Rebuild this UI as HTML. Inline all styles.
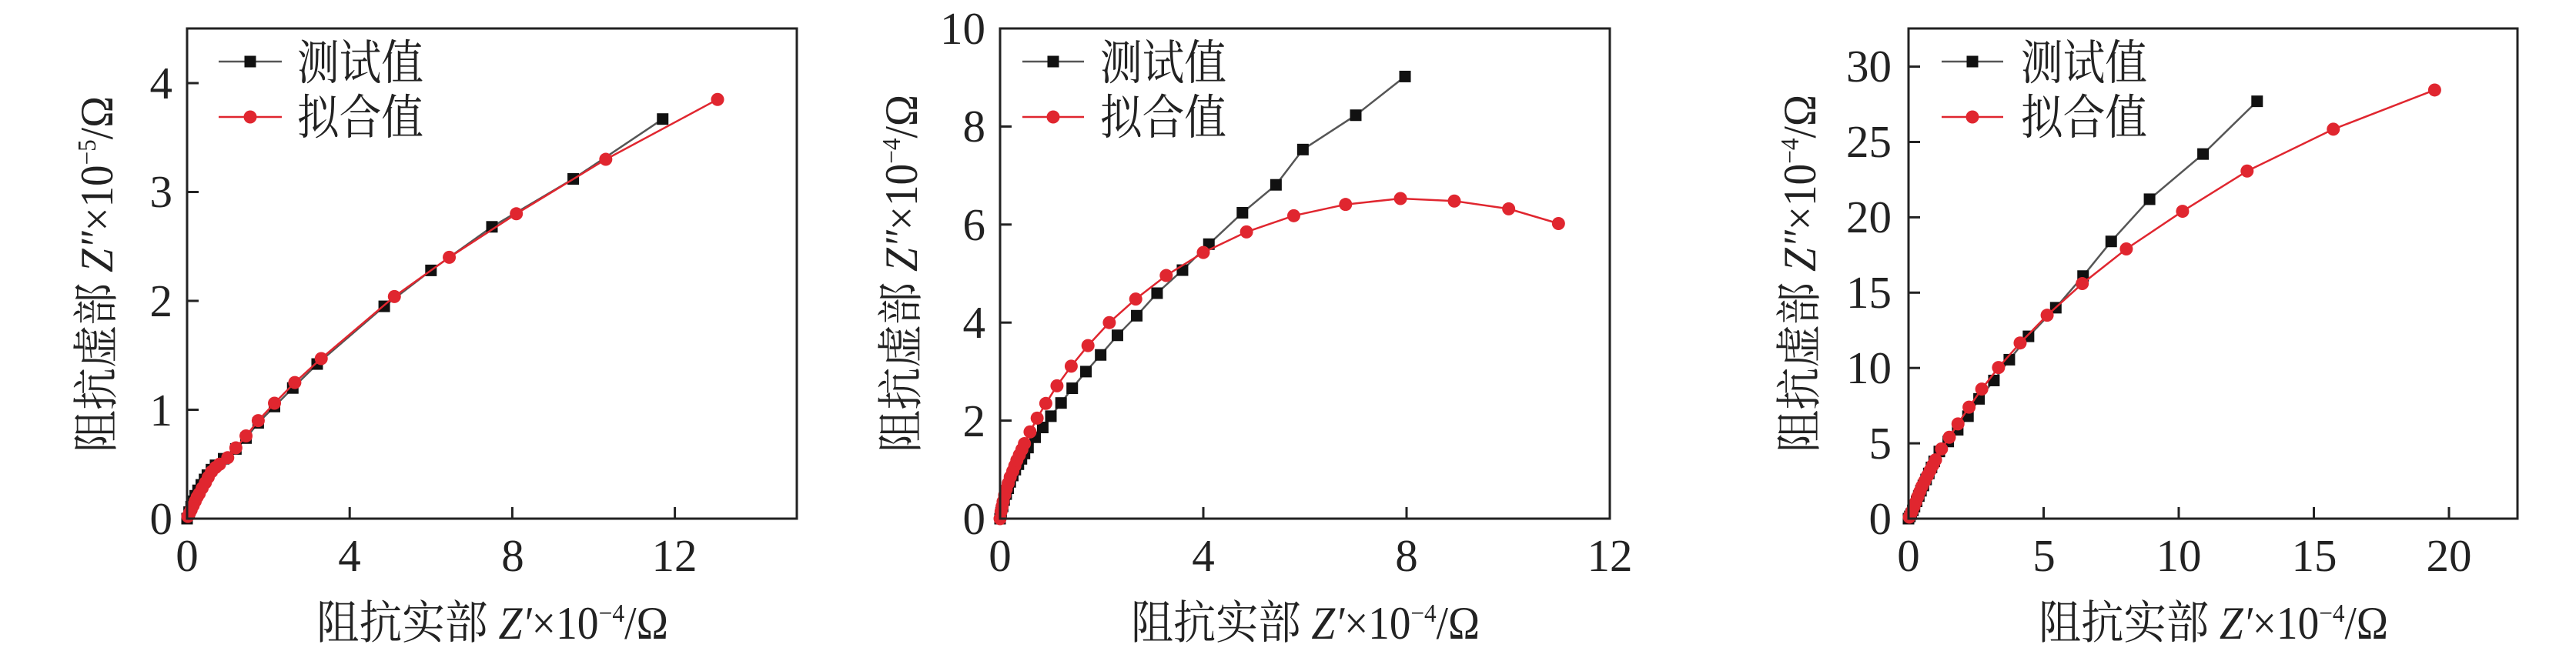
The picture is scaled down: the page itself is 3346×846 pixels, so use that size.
<!DOCTYPE html>
<html><head><meta charset="utf-8"><style>
html,body{margin:0;padding:0;background:#fff;}
svg{display:block;}
text{font-family:"Liberation Serif","Noto Serif CJK SC",serif;fill:#222;}
.t{font-size:59px;}
.lg{font-size:62px;}
</style></head><body>
<svg id="s" width="3346" height="846" viewBox="0 0 3346 846" xmlns="http://www.w3.org/2000/svg">
<g id="plots"></g>
<!-- Panel 1 -->
<rect x="243" y="37" width="792" height="637" fill="none" stroke="#222" stroke-width="3"/>
<g class="t" text-anchor="middle">
<text x="243" y="742">0</text><text x="454" y="742">4</text><text x="666" y="742">8</text><text x="876" y="742">12</text>
</g>
<g class="t" text-anchor="end">
<text x="224" y="694">0</text><text x="224" y="553">1</text><text x="224" y="411">2</text><text x="224" y="269">3</text><text x="224" y="128">4</text>
</g>
<text x="411" y="830" font-size="60" textLength="457" lengthAdjust="spacingAndGlyphs">阻抗实部 <tspan font-style="italic">Z′</tspan>×10<tspan font-size="34" dy="-22">−4</tspan><tspan dy="22">/Ω</tspan></text>
<text transform="translate(146,588) rotate(-90)" x="0" y="0" font-size="60" textLength="463" lengthAdjust="spacingAndGlyphs">阻抗虚部 <tspan font-style="italic">Z″</tspan>×10<tspan font-size="34" dy="-22">−5</tspan><tspan dy="22">/Ω</tspan></text>
<text class="lg" x="386" y="103" textLength="164" lengthAdjust="spacingAndGlyphs">测试值</text>
<text class="lg" x="386" y="174" textLength="164" lengthAdjust="spacingAndGlyphs">拟合值</text>

<!-- Panel 2 -->
<rect x="1299" y="37" width="792" height="637" fill="none" stroke="#222" stroke-width="3"/>
<g class="t" text-anchor="middle">
<text x="1299" y="742">0</text><text x="1563" y="742">4</text><text x="1827" y="742">8</text><text x="2091" y="742">12</text>
</g>
<g class="t" text-anchor="end">
<text x="1280" y="694">0</text><text x="1280" y="567">2</text><text x="1280" y="439">4</text><text x="1280" y="312">6</text><text x="1280" y="184">8</text><text x="1280" y="57">10</text>
</g>
<text x="1469" y="830" font-size="60" textLength="453" lengthAdjust="spacingAndGlyphs">阻抗实部 <tspan font-style="italic">Z′</tspan>×10<tspan font-size="34" dy="-22">−4</tspan><tspan dy="22">/Ω</tspan></text>
<text transform="translate(1191,588) rotate(-90)" x="0" y="0" font-size="60" textLength="465" lengthAdjust="spacingAndGlyphs">阻抗虚部 <tspan font-style="italic">Z″</tspan>×10<tspan font-size="34" dy="-22">−4</tspan><tspan dy="22">/Ω</tspan></text>
<text class="lg" x="1429" y="103" textLength="164" lengthAdjust="spacingAndGlyphs">测试值</text>
<text class="lg" x="1429" y="174" textLength="164" lengthAdjust="spacingAndGlyphs">拟合值</text>

<!-- Panel 3 -->
<rect x="2479" y="37" width="791" height="637" fill="none" stroke="#222" stroke-width="3"/>
<g class="t" text-anchor="middle">
<text x="2479" y="742">0</text><text x="2655" y="742">5</text><text x="2830" y="742">10</text><text x="3006" y="742">15</text><text x="3181" y="742">20</text>
</g>
<g class="t" text-anchor="end">
<text x="2457" y="694">0</text><text x="2457" y="596">5</text><text x="2457" y="498">10</text><text x="2457" y="400">15</text><text x="2457" y="302">20</text><text x="2457" y="204">25</text><text x="2457" y="106">30</text>
</g>
<text x="2648" y="830" font-size="60" textLength="454" lengthAdjust="spacingAndGlyphs">阻抗实部 <tspan font-style="italic">Z′</tspan>×10<tspan font-size="34" dy="-22">−4</tspan><tspan dy="22">/Ω</tspan></text>
<text transform="translate(2358,588) rotate(-90)" x="0" y="0" font-size="60" textLength="465" lengthAdjust="spacingAndGlyphs">阻抗虚部 <tspan font-style="italic">Z″</tspan>×10<tspan font-size="34" dy="-22">−4</tspan><tspan dy="22">/Ω</tspan></text>
<text class="lg" x="2625" y="103" textLength="164" lengthAdjust="spacingAndGlyphs">测试值</text>
<text class="lg" x="2625" y="174" textLength="164" lengthAdjust="spacingAndGlyphs">拟合值</text>
</svg>
<script>
(function(){
var NS="http://www.w3.org/2000/svg",g=document.getElementById("plots");
function el(n,a){var e=document.createElementNS(NS,n);for(var k in a)e.setAttribute(k,a[k]);g.appendChild(e);return e;}
var RED="#e0262f",BLK="#111",S=15,R=8.5;
var P=[
 {x0:243,y0:674,sx:52.8,sy:141.5,xt:[4,8,12],yt:[1,2,3,4],lx:[284,366],
  b:[[0,0],[0.05,0.06],[0.1,0.11],[0.15,0.16],[0.2,0.21],[0.27,0.26],[0.35,0.31],[0.43,0.36],[0.5,0.4],[0.6,0.45],[0.7,0.49],[0.9,0.55],[1.2,0.64],[1.45,0.74],[1.75,0.88],[2.15,1.03],[2.6,1.2],[3.2,1.42],[4.85,1.95],[6.0,2.28],[7.5,2.68],[9.5,3.12],[11.7,3.67]],
  r:[[0.02,0.02],[0.06,0.05],[0.1,0.08],[0.15,0.12],[0.2,0.16],[0.25,0.2],[0.3,0.23],[0.37,0.28],[0.45,0.33],[0.52,0.38],[0.6,0.43],[0.7,0.47],[0.8,0.5],[1.0,0.56],[1.2,0.65],[1.45,0.76],[1.75,0.9],[2.15,1.06],[2.65,1.25],[3.3,1.47],[5.1,2.04],[6.45,2.4],[8.1,2.8],[10.3,3.3],[13.05,3.85]]},
 {x0:1299,y0:674,sx:66,sy:63.7,xt:[4,8],yt:[2,4,6,8],lx:[1328,1408],
  b:[[0,0],[0.02,0.12],[0.05,0.25],[0.08,0.38],[0.12,0.5],[0.16,0.62],[0.2,0.75],[0.25,0.88],[0.3,1.0],[0.36,1.11],[0.42,1.22],[0.48,1.33],[0.55,1.45],[0.69,1.66],[0.84,1.86],[1.0,2.09],[1.2,2.36],[1.42,2.66],[1.69,3.0],[1.98,3.34],[2.31,3.74],[2.69,4.14],[3.09,4.6],[3.59,5.07],[4.11,5.6],[4.77,6.24],[5.43,6.81],[5.96,7.53],[7.0,8.23],[7.97,9.02]],
  r:[[0,0],[0.02,0.15],[0.04,0.25],[0.06,0.35],[0.09,0.48],[0.12,0.6],[0.16,0.72],[0.2,0.85],[0.25,0.97],[0.29,1.08],[0.33,1.19],[0.38,1.3],[0.43,1.41],[0.48,1.53],[0.59,1.77],[0.73,2.05],[0.9,2.35],[1.12,2.71],[1.4,3.11],[1.73,3.53],[2.15,4.0],[2.67,4.48],[3.27,4.96],[4.0,5.43],[4.85,5.85],[5.78,6.18],[6.8,6.41],[7.88,6.53],[8.94,6.48],[10.01,6.32],[10.99,6.02]]},
 {x0:2479,y0:674,sx:35.1,sy:19.58,xt:[5,10,15,20],yt:[5,10,15,20,25,30],lx:[2522,2602],
  b:[[0,0],[0.05,0.15],[0.1,0.3],[0.16,0.55],[0.22,0.8],[0.3,1.15],[0.38,1.5],[0.46,1.85],[0.55,2.2],[0.65,2.6],[0.75,3.0],[0.85,3.4],[0.95,3.8],[1.14,4.46],[1.47,5.12],[1.82,5.9],[2.2,6.8],[2.61,7.95],[3.16,9.17],[3.73,10.55],[4.44,12.1],[5.45,14.0],[6.46,16.1],[7.5,18.4],[8.92,21.2],[10.9,24.2],[12.9,27.7]],
  r:[[0.03,0.1],[0.08,0.3],[0.13,0.5],[0.2,0.8],[0.27,1.1],[0.34,1.45],[0.42,1.8],[0.5,2.15],[0.6,2.5],[0.7,2.85],[0.8,3.2],[0.9,3.55],[1.0,3.9],[1.22,4.63],[1.51,5.4],[1.83,6.29],[2.24,7.4],[2.71,8.6],[3.33,10.03],[4.13,11.66],[5.13,13.5],[6.43,15.6],[8.06,17.9],[10.14,20.4],[12.53,23.07],[15.72,25.85],[19.47,28.45]]}
];
P.forEach(function(p){
 p.xt.forEach(function(v){var x=p.x0+v*p.sx;el("line",{x1:x,x2:x,y1:p.y0,y2:p.y0-15,stroke:"#222","stroke-width":3});});
 p.yt.forEach(function(v){var y=p.y0-v*p.sy;el("line",{x1:p.x0,x2:p.x0+15,y1:y,y2:y,stroke:"#222","stroke-width":3});});
 function pts(d){return d.map(function(q){return (p.x0+q[0]*p.sx).toFixed(1)+","+(p.y0-q[1]*p.sy).toFixed(1);}).join(" ");}
 el("polyline",{points:pts(p.b),fill:"none",stroke:"#555","stroke-width":2.5});
 p.b.forEach(function(q){el("rect",{x:p.x0+q[0]*p.sx-S/2,y:p.y0-q[1]*p.sy-S/2,width:S,height:S,fill:BLK});});
 el("polyline",{points:pts(p.r),fill:"none",stroke:RED,"stroke-width":2.5});
 p.r.forEach(function(q){el("circle",{cx:p.x0+q[0]*p.sx,cy:p.y0-q[1]*p.sy,r:R,fill:RED});});
 el("line",{x1:p.lx[0],x2:p.lx[1],y1:80,y2:80,stroke:"#555","stroke-width":2.5});
 el("rect",{x:(p.lx[0]+p.lx[1])/2-S/2,y:80-S/2,width:S,height:S,fill:BLK});
 el("line",{x1:p.lx[0],x2:p.lx[1],y1:152,y2:152,stroke:RED,"stroke-width":2.5});
 el("circle",{cx:(p.lx[0]+p.lx[1])/2,cy:152,r:R,fill:RED});
});
})();
</script>
</body></html>
